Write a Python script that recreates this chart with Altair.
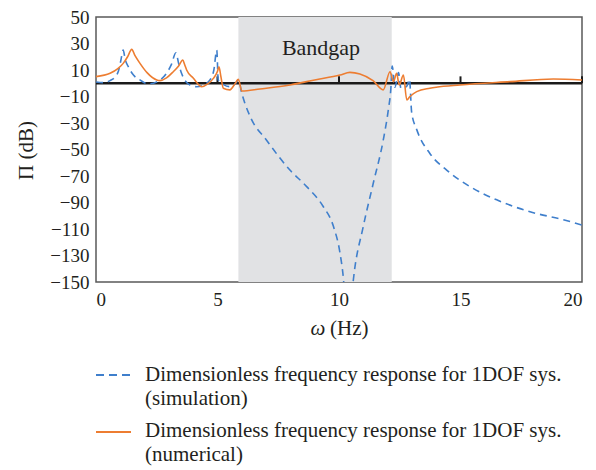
import altair as alt
import pandas as pd

# Frequency response, simulation (dashed blue)
sim_x = [0.0, 0.3, 0.58, 0.8, 0.92, 1.02, 1.12, 1.2, 1.33, 1.55, 1.81, 2.15, 2.5, 2.9, 3.1,
         3.29, 3.4, 3.52, 3.87, 4.14, 4.45, 4.69, 4.85, 4.97, 5.03, 5.25, 5.51, 5.75, 5.86,
         6.0, 6.34, 7.02, 7.98, 8.67, 9.35, 9.77, 10.04, 10.18, 10.3,
         10.45, 10.59, 11.0, 11.41, 11.82, 12.03, 12.13, 12.19, 12.3, 12.45, 12.55, 12.8,
         12.9, 12.99, 13.2, 13.74, 14.43, 15.39, 16.49, 17.86, 19.23, 20.0]
sim_y = [1, 0.5, 2, 5, 9, 17, 25, 18, 12.5, 6, 2.5, -0.5, 1, 7.5, 14,
         23, 15, 7.5, -1.3, -2.6, -1, 2.5, 10, 25, 2.5, -1, -2.6, 0, 2.5,
         -7.6, -25, -43, -65.5, -78, -93, -108, -128, -147, -175,
         -175, -148.5, -108, -75.5, -43, -20, -5, 13, -3, 8, -4, -2,
         3, -22, -35, -53, -65.5, -78, -88, -97, -103, -107]

# Frequency response, numerical (solid orange)
num_x = [0, 0.58, 0.9, 1.12, 1.3, 1.47, 1.6, 1.81, 2.1, 2.5, 2.63, 2.9, 3.18, 3.4, 3.57,
         3.65, 3.73, 4.0, 4.35, 4.6, 4.83, 5.0, 5.06, 5.14, 5.24, 5.51, 5.7, 5.86, 6.0,
         6.75, 7.98, 9.0, 10.04, 10.45, 10.86, 11.4, 11.82, 12.1, 12.24, 12.37, 12.48,
         12.65, 12.79, 12.92, 13.2, 13.74, 14.0, 14.98, 17.04, 18.82, 20]
num_y = [5, 7.5, 11, 15, 20, 25.6, 21, 15, 8, 2.5, 2, 4, 8.7, 13, 17.5,
         14, 10, 4, -2.6, -0.5, 3.7, 9, 12.5, 5, -3.8, -5, -1, 3, -5.9,
         -4.3, -1.3, 2.5, 6.2, 8.2, 7, 2, -5, 8.7, 1.2, 7.5, -1.3,
         6.2, -12.6, -10, -6.3, -3.8, -3, -1.3, 1.2, 3.2, 2.5]

band_lo, band_hi = [5.86], [12.17]
zero_ticks = [5, 10, 15, 20]
x_ticks = [0, 5, 10, 15, 20]
y_ticks = list(range(-150, 51, 20))

SERIF = "Liberation Serif"
INK = "#231f20"
BLUE = "#3f7fcc"
ORANGE = "#ed7d31"

sim = pd.DataFrame({"w": sim_x, "p": sim_y})
num = pd.DataFrame({"w": num_x, "p": num_y})
band = pd.DataFrame({"lo": band_lo, "hi": band_hi})
ticks = pd.DataFrame({"w": zero_ticks, "base": [0] * 4, "top": [5.2] * 4})
zero = pd.DataFrame({"a": [0], "b": [20], "p": [0]})

xs = alt.Scale(domain=[0, 20], nice=False, zero=False)
ys = alt.Scale(domain=[-150, 50], nice=False, zero=False)

axis_style = dict(
    grid=False, ticks=False, domain=False, labelOverlap=False,
    labelFont=SERIF, labelFontSize=19, labelColor=INK,
    titleFont=SERIF, titleFontSize=21, titleFontWeight="normal", titleColor=INK,
)
x_axis = alt.Axis(values=x_ticks, title=None, labelPadding=8, **axis_style)
y_axis = alt.Axis(values=y_ticks, title="Π (dB)", labelPadding=7,
                  titleX=-60, titleY=133, titleAngle=-90, **axis_style)

band_layer = alt.Chart(band).mark_rect(color="#e1e2e4").encode(
    x=alt.X("lo:Q", scale=xs, axis=x_axis),
    x2="hi:Q",
    y=alt.value(0),
    y2=alt.value(265),
)

zero_line = alt.Chart(zero).mark_rule(color="#1a1a1a", strokeWidth=2.5).encode(
    x=alt.X("a:Q", scale=xs, axis=x_axis), x2="b:Q",
    y=alt.Y("p:Q", scale=ys, axis=y_axis),
)

zero_tick_layer = alt.Chart(ticks).mark_rule(color="#1a1a1a", strokeWidth=2).encode(
    x=alt.X("w:Q", scale=xs, axis=x_axis),
    y=alt.Y("base:Q", scale=ys, axis=y_axis), y2="top:Q",
)

sim_line = alt.Chart(sim).mark_line(color=BLUE, strokeWidth=1.6, strokeDash=[7, 5],
                                    interpolate="monotone", clip=True).encode(
    x=alt.X("w:Q", scale=xs, axis=x_axis), y=alt.Y("p:Q", scale=ys, axis=y_axis),
    order="index:Q",
).transform_window(index="row_number()")

num_line = alt.Chart(num).mark_line(color=ORANGE, strokeWidth=1.6,
                                    interpolate="monotone", clip=True).encode(
    x=alt.X("w:Q", scale=xs, axis=x_axis), y=alt.Y("p:Q", scale=ys, axis=y_axis),
    order="index:Q",
).transform_window(index="row_number()")


def label(text, x, y, size=21, style="normal", align="left"):
    return alt.Chart(pd.DataFrame({"t": [text]})).mark_text(
        font=SERIF, fontSize=size, fontStyle=style, color=INK,
        align=align, baseline="alphabetic",
    ).encode(text="t:N", x=alt.value(x), y=alt.value(y))


bandgap_label = label("Bandgap", 225, 38, size=22, align="center")
x_title_w = label("ω", 222, 318, size=21, style="italic", align="center")
x_title_hz = label("(Hz)", 234, 318, size=21)


def swatch(color, y, dash=None):
    kw = {"strokeDash": dash} if dash else {}
    return alt.Chart(pd.DataFrame({"k": [0]})).mark_rule(
        color=color, strokeWidth=2, **kw
    ).encode(x=alt.value(0), x2=alt.value(35), y=alt.value(y))


legend = [
    swatch(BLUE, 358, [8, 5]),
    label("Dimensionless frequency response for 1DOF sys.", 49, 364),
    label("(simulation)", 49, 388),
    swatch(ORANGE, 415),
    label("Dimensionless frequency response for 1DOF sys.", 49, 420),
    label("(numerical)", 49, 444),
]

chart = alt.layer(
    band_layer, zero_line, zero_tick_layer, sim_line, num_line,
    bandgap_label, x_title_w, x_title_hz, *legend,
).properties(
    width=486, height=265,
    background="white",
    autosize=alt.AutoSizeParams(type="none"),
    padding={"left": 96, "top": 17, "right": 14, "bottom": 188},
).configure_axis(
    **axis_style
).configure_view(
    stroke="#5a5a5a", strokeWidth=1.5,
)

chart.save("out.html", embed_options={"renderer": "svg", "actions": False})
